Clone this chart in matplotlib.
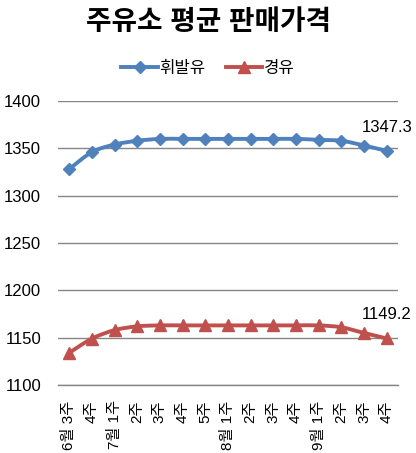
import matplotlib
matplotlib.use("Agg")
import matplotlib.pyplot as plt
from matplotlib.path import Path
from matplotlib.patches import PathPatch
from matplotlib.lines import Line2D
import numpy as np

plt.rcParams['font.family'] = ['Liberation Sans', 'Noto Sans CJK KR', 'DejaVu Sans']

title = "주유소 평균 판매가격"
categories = ["6월 3주", "4주", "7월 1주", "2주", "3주", "4주", "5주",
              "8월 1주", "2주", "3주", "4주", "9월 1주", "2주", "3주", "4주"]
gasoline = [1328, 1346, 1354, 1358, 1360, 1360, 1360, 1360, 1360, 1360,
            1360, 1359, 1358, 1353, 1347.3]
diesel = [1134, 1149, 1158, 1162, 1163, 1163, 1163, 1163, 1163, 1163,
          1163, 1163, 1161, 1155, 1149.2]
series_names = ["휘발유", "경유"]
yticks = [1100, 1150, 1200, 1250, 1300, 1350, 1400]

blue = "#4F81BD"
red = "#C0504D"

fig = plt.figure(figsize=(4.16, 4.53), dpi=100)
ax = fig.add_axes([0.139, 0.150, 0.818, 0.627])

x = np.arange(len(categories))


def smooth_path(xs, ys):
    pts = np.column_stack([xs, ys]).astype(float)
    n = len(pts)
    verts = [pts[0]]
    codes = [Path.MOVETO]
    for i in range(n - 1):
        p0 = pts[i - 1] if i > 0 else pts[i]
        p1 = pts[i]
        p2 = pts[i + 1]
        p3 = pts[i + 2] if i + 2 < n else pts[i + 1]
        c1 = p1 + (p2 - p0) / 6.0
        c2 = p2 - (p3 - p1) / 6.0
        verts += [c1, c2, p2]
        codes += [Path.CURVE4] * 3
    return Path(verts, codes)


for vals, col, mk, ms in [(gasoline, blue, 'D', 6.5), (diesel, red, '^', 8)]:
    patch = PathPatch(smooth_path(x, vals), facecolor='none', edgecolor=col,
                      lw=2.8, zorder=3, capstyle='round', joinstyle='round')
    ax.add_patch(patch)
    ax.plot(x, vals, linestyle='none', marker=mk, ms=ms, color=col, zorder=4)

ax.annotate(f"{gasoline[-1]:.1f}", (x[-1], gasoline[-1]), xytext=(0, 17),
            textcoords='offset points', ha='center', va='center', fontsize=12)
ax.annotate(f"{diesel[-1]:.1f}", (x[-1], diesel[-1]), xytext=(0, 17),
            textcoords='offset points', ha='center', va='center', fontsize=12)

ax.set_xlim(-0.5, len(categories) - 0.5)
ax.set_ylim(1100, 1400)
ax.set_yticks(yticks)
ax.set_yticklabels([str(v) for v in yticks], fontsize=12)
ax.set_xticks(x)
ax.set_xticklabels(categories, rotation=90, fontsize=11, va='top', ha='center')
ax.tick_params(axis='y', length=0, pad=12)
ax.tick_params(axis='x', length=0, pad=11)
ax.grid(axis='y', color='#868686', lw=1)
ax.set_axisbelow(True)
for s in ['top', 'right', 'left']:
    ax.spines[s].set_visible(False)
ax.spines['bottom'].set_color('#868686')
ax.spines['bottom'].set_linewidth(1)

fig.text(0.5, 0.949, title, ha='center', va='center', fontsize=20,
         fontweight='bold')

handles = [Line2D([], [], color=blue, lw=2.8, marker='D', ms=6.5),
           Line2D([], [], color=red, lw=2.8, marker='^', ms=8)]
fig.legend(handles, series_names, loc='center', bbox_to_anchor=(0.5, 0.85),
           ncol=2, frameon=False, fontsize=12, handlelength=2.2,
           handletextpad=0.1, columnspacing=1.2)

fig.savefig("out.png", dpi=100, facecolor='white')
